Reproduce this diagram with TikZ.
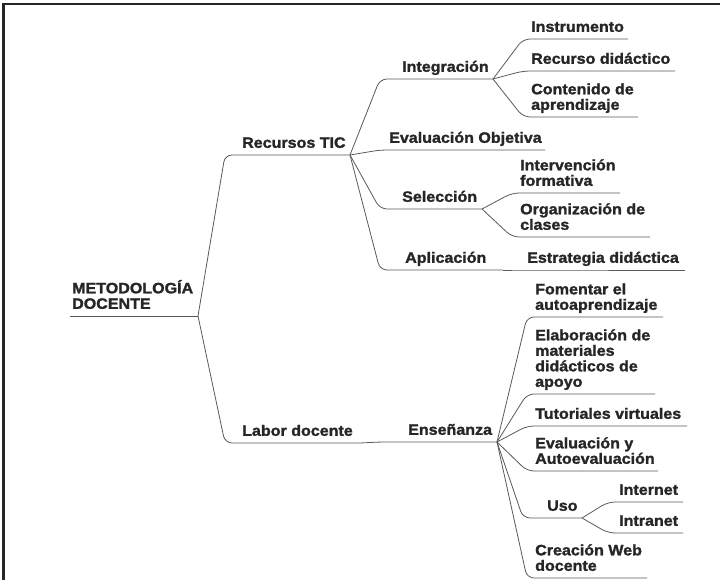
\documentclass[tikz,border=0pt]{standalone}
\usepackage{fontspec}
\setmainfont{Liberation Sans}[FakeStretch=1.07, BoldFeatures={FakeBold=1.6}]
\usetikzlibrary{calc}

\begin{document}
\begin{tikzpicture}[x=1pt,y=-1pt,
		item/.style={anchor=south west, inner sep=0pt, align=left,
			font=\fontsize{15}{15.5}\selectfont\bfseries, text=black!85,
			execute at end node={\rule[-4pt]{0pt}{4pt}}},
		branch/.style={draw=black!65, line width=0.8pt, rounded corners=7pt}]
		\useasboundingbox (0,0) rectangle (720,580);
		
		% frame (top and left only)
		\draw[line width=2.5pt, black!85] (3.5,580) -- (3.5,4) -- (720,4);
		
		% root
		\coordinate (met-s) at (70,316);
		\coordinate (met-e) at (198,316); % root junction
		\node[item] (met) at (72,313) {METODOLOG\'IA\\DOCENTE};
		\draw[branch] (met-s) -- (met-e);
		
		% first level
		\coordinate (rec-s) at (225,155);
		\coordinate (rec-e) at (350,155);
		\node[item] (rec) at (242,152) {Recursos TIC};
		\coordinate (lab-s) at (225,443);
		\coordinate (lab-e) at (360,443);
		\node[item] (lab) at (242,440) {Labor docente};
		\draw[branch] (met-e) -- (rec-s) -- (rec-e);
		\draw[branch] (met-e) -- (lab-s) -- (lab-e);
		
		% Recursos TIC
		\coordinate (int-s) at (380,79);
		\coordinate (int-e) at (493,79);
		\node[item] (int) at (402,76) {Integraci\'on};
		\coordinate (eva-s) at (380,150);
		\coordinate (eva-e) at (545,150);
		\node[item] (eva) at (389,147) {Evaluaci\'on Objetiva};
		\coordinate (sel-s) at (380,209);
		\coordinate (sel-e) at (482,209);
		\node[item] (sel) at (402,206) {Selecci\'on};
		\coordinate (apl-s) at (380,270);
		\coordinate (apl-e) at (503,270);
		\node[item] (apl) at (405,267) {Aplicaci\'on};
		\foreach \n in {int,eva,sel,apl}
			\draw[branch] (rec-e) -- (\n-s) -- (\n-e);
		
		% Integracion
		\coordinate (ins-s) at (523,39);
		\coordinate (ins-e) at (628,39);
		\node[item] (ins) at (531,36) {Instrumento};
		\coordinate (rdi-s) at (523,71);
		\coordinate (rdi-e) at (675,71);
		\node[item] (rdi) at (531,68) {Recurso did\'actico};
		\coordinate (cont-s) at (523,117);
		\coordinate (cont-e) at (638,117);
		\node[item] (cont) at (531,114) {Contenido de\\aprendizaje};
		\foreach \n in {ins,rdi,cont}
			\draw[branch] (int-e) -- (\n-s) -- (\n-e);
		
		% Seleccion
		\coordinate (ifo-s) at (512,193);
		\coordinate (ifo-e) at (620,193);
		\node[item] (ifo) at (520,190) {Intervenci\'on\\formativa};
		\coordinate (org-s) at (512,237);
		\coordinate (org-e) at (650,237);
		\node[item] (org) at (520,234) {Organizaci\'on de\\clases};
		\foreach \n in {ifo,org}
			\draw[branch] (sel-e) -- (\n-s) -- (\n-e);
		
		% Aplicacion
		\coordinate (est-s) at (527,270);
		\coordinate (est-e) at (685,270);
		\node[item] (est) at (527,267) {Estrategia did\'actica};
		\draw[branch] (apl-e) -- (est-s) -- (est-e);
		
		% Labor docente
		\coordinate (ens-s) at (380,442);
		\coordinate (ens-e) at (497,442);
		\node[item] (ens) at (408,439) {Ense\~nanza};
		\draw[branch] (lab-e) -- (ens-s) -- (ens-e);
		
		% Ensenanza
		\coordinate (fom-s) at (527,317);
		\coordinate (fom-e) at (663,317);
		\node[item] (fom) at (535,314) {Fomentar el\\autoaprendizaje};
		\coordinate (ela-s) at (527,394);
		\coordinate (ela-e) at (655,394);
		\node[item] (ela) at (535,391) {Elaboraci\'on de\\materiales\\did\'acticos de\\apoyo};
		\coordinate (tut-s) at (527,426);
		\coordinate (tut-e) at (687,426);
		\node[item] (tut) at (535,423) {Tutoriales virtuales};
		\coordinate (aut-s) at (527,471);
		\coordinate (aut-e) at (658,471);
		\node[item] (aut) at (535,468) {Evaluaci\'on y\\Autoevaluaci\'on};
		\coordinate (uso-s) at (523,518);
		\coordinate (uso-e) at (582,518);
		\node[item] (uso) at (547,515) {Uso};
		\coordinate (web-s) at (527,578);
		\coordinate (web-e) at (647,578);
		\node[item] (web) at (535,575) {Creaci\'on Web\\docente};
		\foreach \n in {fom,ela,tut,aut,uso,web}
			\draw[branch] (ens-e) -- (\n-s) -- (\n-e);
		
		% Uso
		\coordinate (inet-s) at (608,502);
		\coordinate (inet-e) at (683,502);
		\node[item] (inet) at (619,499) {Internet};
		\coordinate (itra-s) at (608,533);
		\coordinate (itra-e) at (683,533);
		\node[item] (itra) at (619,530) {Intranet};
		\foreach \n in {inet,itra}
			\draw[branch] (uso-e) -- (\n-s) -- (\n-e);
	\end{tikzpicture}
\end{document}
